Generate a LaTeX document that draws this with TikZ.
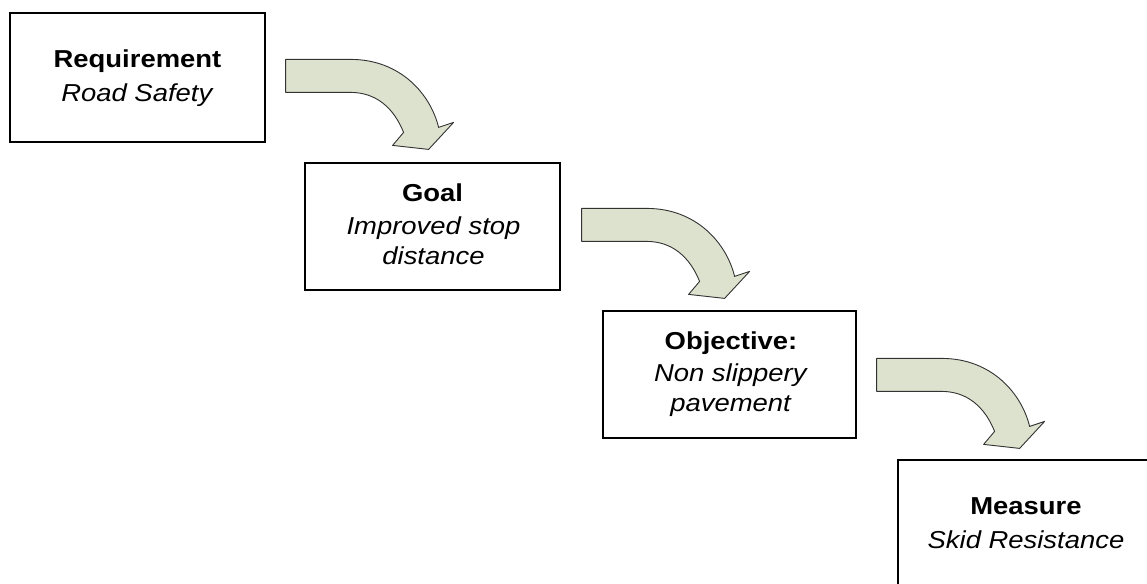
\documentclass[tikz,border=0pt]{standalone}
\usepackage{fontspec}
\setmainfont{Liberation Sans}
\usetikzlibrary{calc}
\newcommand{\stretchtxt}[1]{\scalebox{1.12}[1]{#1}}
\definecolor{arrowfill}{RGB}{221,226,206}
\definecolor{arrowline}{RGB}{50,50,50}
\tikzset{
  box/.style={draw=black, line width=1.2pt, fill=white, inner sep=0pt},
  txt/.style={inner sep=0pt, anchor=base, font=\fontsize{24.5}{29}\selectfont},
  curvearrow/.pic={
    \draw[fill=arrowfill, draw=arrowline, line width=0.9pt, line join=round]
      (0,0) -- (65,0) .. controls (115,0) and (145,35) .. (153,68)
      -- (168,63) -- (143,90) -- (107,86) -- (118,73)
      .. controls (108,48) and (90,33) .. (65,33) -- (0,33) -- cycle;
  }
}
\begin{document}
\begin{tikzpicture}[x=1pt, y=-1pt]
\useasboundingbox (0,0) rectangle (1147,583);
\clip (0,0) rectangle (1147,583);
\fill[white] (0,0) rectangle (1147,583);

\node[box, minimum width=255pt, minimum height=129pt] (b1) at (137.5,77.5) {};
\node[box, minimum width=255pt, minimum height=127pt] (b2) at (432.5,226.5) {};
\node[box, minimum width=253pt, minimum height=127pt] (b3) at (729.5,374.5) {};
\node[box, minimum width=256pt, minimum height=126pt] (b4) at (1026,523) {};

\pic at ($(b1.north east)+(20,47)$) {curvearrow};
\pic at ($(b2.north east)+(21,46)$) {curvearrow};
\pic at ($(b3.north east)+(20,48)$) {curvearrow};

\node[txt] (t1a) at (137.5,68) {\stretchtxt{\textbf{Requirement}}};
\node[txt] (t1b) at (137.5,101.8) {\stretchtxt{\textit{Road Safety}}};

\node[txt] (t2a) at (432.5,201) {\stretchtxt{\textbf{Goal}}};
\node[txt] (t2b) at (433.5,234.3) {\stretchtxt{\textit{Improved stop}}};
\node[txt] (t2c) at (433.5,264.3) {\stretchtxt{\textit{distance}}};

\node[txt] (t3a) at (731,349.3) {\stretchtxt{\textbf{Objective:}}};
\node[txt] (t3b) at (731,381.7) {\stretchtxt{\textit{Non slippery}}};
\node[txt] (t3c) at (731,411.7) {\stretchtxt{\textit{pavement}}};

\node[txt] (t4a) at (1026,514.3) {\stretchtxt{\textbf{Measure}}};
\node[txt] (t4b) at (1026,548.3) {\stretchtxt{\textit{Skid Resistance}}};
\end{tikzpicture}
\end{document}
